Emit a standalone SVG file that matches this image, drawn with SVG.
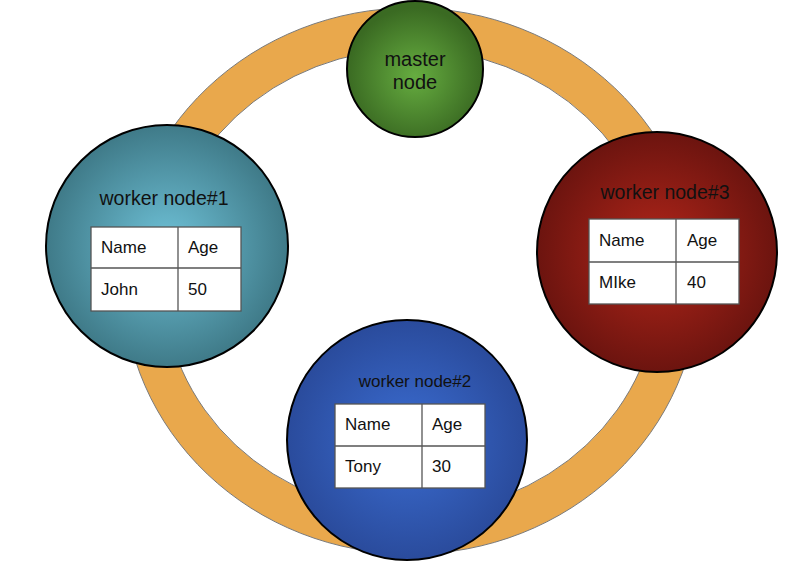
<svg xmlns="http://www.w3.org/2000/svg" width="804" height="564" viewBox="0 0 804 564">
<defs>
<radialGradient id="gGreen" cx="0.5" cy="0.55" r="0.5">
<stop offset="0" stop-color="#66AD40"/><stop offset="1" stop-color="#3A6A22"/>
</radialGradient>
<radialGradient id="gTeal" cx="0.5" cy="0.5" r="0.5">
<stop offset="0" stop-color="#6FC2D8"/><stop offset="1" stop-color="#3F7A88"/>
</radialGradient>
<radialGradient id="gRed" cx="0.5" cy="0.5" r="0.5">
<stop offset="0" stop-color="#B3261A"/><stop offset="1" stop-color="#6C140F"/>
</radialGradient>
<radialGradient id="gBlue" cx="0.5" cy="0.5" r="0.5">
<stop offset="0" stop-color="#3B6DD2"/><stop offset="1" stop-color="#2A4B9C"/>
</radialGradient>
</defs>
<style>
.node{stroke:#000;stroke-width:2}
.tbl{fill:#fff;stroke:#555;stroke-width:1.3}
.ln{stroke:#555;stroke-width:1.3}
text{font-family:"Liberation Sans",Arial,Helvetica,sans-serif;fill:#111}
.t{font-size:17px}
.title{font-size:19.5px}
.ring{fill:#E9A84C;stroke:#7a7a7a;stroke-width:1;fill-rule:evenodd}
</style>
<rect width="804" height="564" fill="#fff"/>
<g id="connectors">
<path class="ring" d="M123,281 A288,273 0 1,0 699,281 A288,273 0 1,0 123,281 Z M163,281 A248,232 0 1,1 659,281 A248,232 0 1,1 163,281 Z"/>
</g>
<g id="master">
<circle class="node" cx="415" cy="69" r="68" fill="url(#gGreen)"/>
<text x="415" y="66" font-size="20" text-anchor="middle">master</text>
<text x="415" y="89" font-size="20" text-anchor="middle">node</text>
</g>
<g id="worker1">
<circle class="node" cx="167" cy="246" r="121" fill="url(#gTeal)"/>
<text class="title" x="164" y="205" text-anchor="middle">worker node#1</text>
<rect class="tbl" x="91" y="227" width="150" height="84"/>
<line class="ln" x1="91" y1="268" x2="241" y2="268"/>
<line class="ln" x1="178" y1="227" x2="178" y2="311"/>
<text class="t" x="101" y="253">Name</text>
<text class="t" x="188" y="253">Age</text>
<text class="t" x="101" y="295">John</text>
<text class="t" x="188" y="295">50</text>
</g>
<g id="worker3">
<circle class="node" cx="657" cy="252" r="120" fill="url(#gRed)"/>
<text class="title" x="665" y="199" text-anchor="middle">worker node#3</text>
<rect class="tbl" x="589" y="219" width="150" height="85"/>
<line class="ln" x1="589" y1="262" x2="739" y2="262"/>
<line class="ln" x1="676" y1="219" x2="676" y2="304"/>
<text class="t" x="599" y="246">Name</text>
<text class="t" x="687" y="246">Age</text>
<text class="t" x="599" y="288">MIke</text>
<text class="t" x="687" y="288">40</text>
</g>
<g id="worker2">
<circle class="node" cx="407" cy="440" r="120" fill="url(#gBlue)"/>
<text x="415" y="387" font-size="17" text-anchor="middle">worker node#2</text>
<rect class="tbl" x="335" y="404" width="150" height="84"/>
<line class="ln" x1="335" y1="446" x2="485" y2="446"/>
<line class="ln" x1="422" y1="404" x2="422" y2="488"/>
<text class="t" x="345" y="430">Name</text>
<text class="t" x="432" y="430">Age</text>
<text class="t" x="345" y="472">Tony</text>
<text class="t" x="432" y="472">30</text>
</g>
</svg>
